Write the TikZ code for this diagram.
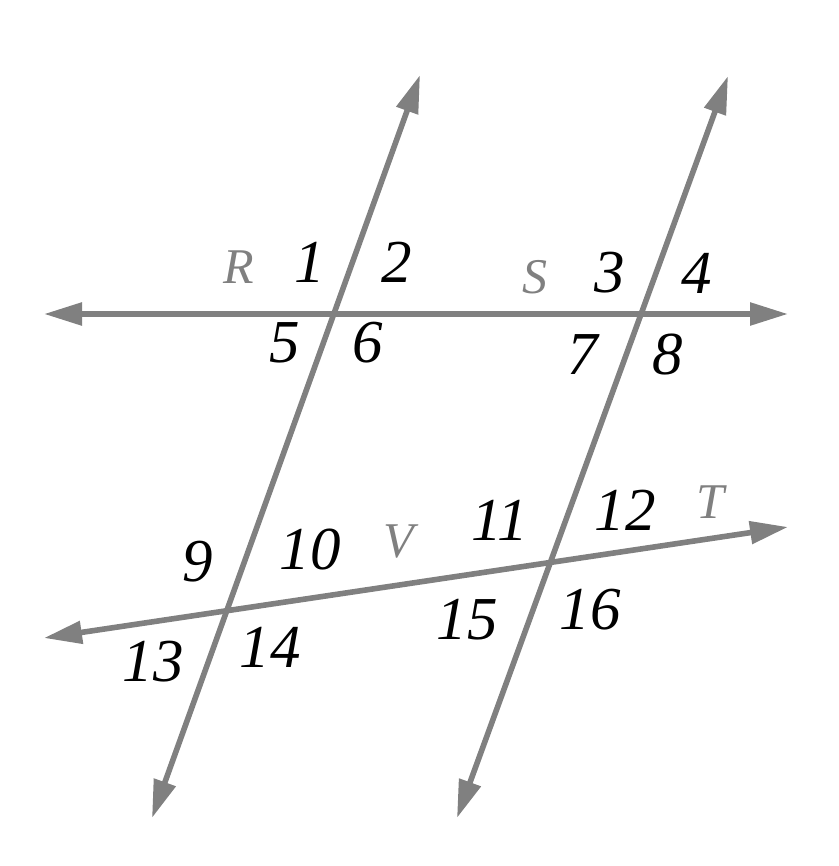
\documentclass[tikz,border=0pt]{standalone}
\usepackage{fontspec}
\setmainfont{Liberation Serif}
\usetikzlibrary{arrows.meta}
\definecolor{linegray}{RGB}{128,128,128}
\tikzset{
  ray/.style={draw=linegray, line width=2.8pt,
    {Triangle[length=19pt,width=11pt]}-{Triangle[length=19pt,width=11pt]}},
  num/.style={font=\fontsize{30.5}{32}\selectfont\itshape},
  letter/.style={font=\fontsize{25}{27}\selectfont\itshape, text=linegray},
}
\begin{document}
\begin{tikzpicture}[x=0.5pt, y=-0.5pt]
    \useasboundingbox (0, 0) rectangle (839, 866);

    % end points of the four lines
    \coordinate (hl) at (44, 314);
    \coordinate (hr) at (788, 314);
    \coordinate (tl) at (44, 638);
    \coordinate (tr) at (788, 527);
    \coordinate (ab) at (152, 818);
    \coordinate (at) at (420, 75);
    \coordinate (bb) at (457, 818);
    \coordinate (bt) at (728, 76);

    \draw [ray] (hl) to (hr);
    \draw [ray] (tl) to (tr);
    \draw [ray] (ab) to (at);
    \draw [ray] (bb) to (bt);

    % line names
    \node [letter] (R) at (239, 267) {R};
    \node [letter] (S) at (535, 277) {S};
    \node [letter] (V) at (399, 542) {V};
    \node [letter] (T) at (710, 502) {T};

    % angle numbers
    \node [num] (n1) at (310, 262) {1};
    \node [num] (n2) at (397, 262) {2};
    \node [num] (n3) at (610, 273) {3};
    \node [num] (n4) at (697, 273) {4};
    \node [num] (n5) at (285, 343) {5};
    \node [num] (n6) at (368, 343) {6};
    \node [num] (n7) at (583, 355) {7};
    \node [num] (n8) at (668, 355) {8};
    \node [num] (n9) at (198, 562) {9};
    \node [num] (n10) at (310, 550) {10};
    \node [num] (n11) at (500, 520) {11};
    \node [num] (n12) at (625, 510) {12};
    \node [num] (n13) at (153, 662) {13};
    \node [num] (n14) at (270, 647) {14};
    \node [num] (n15) at (467, 620) {15};
    \node [num] (n16) at (590, 610) {16};

  \end{tikzpicture}
\end{document}
